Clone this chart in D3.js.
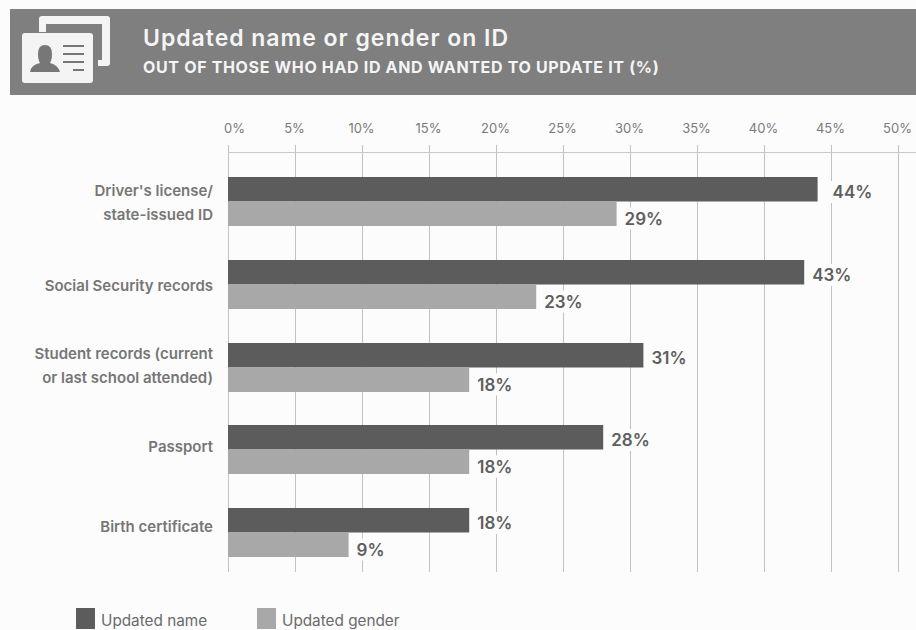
<!DOCTYPE html>
<html>
<head>
<meta charset="utf-8">
<script src="https://cdn.jsdelivr.net/npm/d3@7"></script>
<style>
  html, body { margin: 0; padding: 0; background: #fcfcfc; }
  svg { display: block; font-family: "Inter", "Lato", sans-serif; }
</style>
</head>
<body>
<svg id="chart" width="916" height="630"></svg>
<script>
const categories = ["Driver's license/\nstate-issued ID", "Social Security records", "Student records (current\nor last school attended)", "Passport", "Birth certificate"];
const updatedName = [44, 43, 31, 28, 18];
const updatedGender = [29, 23, 18, 18, 9];
const seriesNames = ["Updated name", "Updated gender"];
const tickValues = [0, 5, 10, 15, 20, 25, 30, 35, 40, 45, 50];

const nameColor = "#5c5c5c";
const genderColor = "#a8a8a8";
const inkColor = "#5e5e5e";

const svg = d3.select("#chart");

// Header band with the ID card icon and titles
svg.append("rect").attr("x", 10).attr("y", 9).attr("width", 906).attr("height", 86).attr("fill", "#7f7f7f");

const icon = svg.append("g").attr("id", "id-icon");
icon.append("path")
  .attr("d", "M39 32 V19 Q39 16 42 16 H107 Q110 16 110 19 V63 Q110 66 107 66 H98 V60 H102 V24 H46 V32 Z")
  .attr("fill", "#f4f4f4");
icon.append("rect").attr("x", 22).attr("y", 33).attr("width", 71).attr("height", 50).attr("rx", 3).attr("fill", "#f4f4f4");
icon.append("path")
  .attr("d", "M30 72 Q31 65 40 63 Q38 60 38 54 Q38 45 45 45 Q52 45 52 54 Q52 60 50 63 Q58 65 60 72 Z")
  .attr("fill", "#777");
[[63, 84, 46], [63, 84, 54], [63, 84, 62], [73, 84, 70]].forEach(([x1, x2, y]) => {
  icon.append("line").attr("x1", x1).attr("x2", x2).attr("y1", y).attr("y2", y)
    .attr("stroke", "#777").attr("stroke-width", 2);
});

svg.append("text").attr("x", 143).attr("y", 46)
  .attr("font-size", 23).attr("font-weight", 600).attr("letter-spacing", 0.98).attr("fill", "#f5f5f5")
  .text("Updated name or gender on ID");
svg.append("text").attr("x", 143).attr("y", 73)
  .attr("font-size", 16).attr("font-weight", 700).attr("letter-spacing", 0.66).attr("fill", "#f5f5f5")
  .text("OUT OF THOSE WHO HAD ID AND WANTED TO UPDATE IT (%)");

// Scales
const x = d3.scaleLinear().domain([0, 50]).range([228, 898]);
const groupTops = [177, 260, 343, 425, 508];
const labelCentres = [203, 286, 365.5, 447, 527];
const y = d3.scaleOrdinal().domain(categories).range(groupTops);
const labelY = d3.scaleOrdinal().domain(categories).range(labelCentres);
const barHeight = 24.5;
const gridTop = 145;
const gridBottom = 572;

// Percentage axis along the top, its ticks extended into the vertical grid
const axis = d3.axisTop(x)
  .tickValues(tickValues)
  .tickFormat(d => d + "%")
  .tickSize(0)
  .tickPadding(0);
const axisG = svg.append("g").attr("transform", "translate(0,133)").call(axis);
axisG.select(".domain").remove();
axisG.selectAll("text")
  .attr("font-size", 13).attr("fill", "#7a7a7a").attr("font-family", "Inter, Lato, sans-serif")
  .attr("dx", d => d === 0 ? 6 : -1);

svg.append("g").attr("shape-rendering", "crispEdges").selectAll("line").data(tickValues).join("line")
  .attr("x1", d => x(d)).attr("x2", d => x(d))
  .attr("y1", gridTop).attr("y2", gridBottom)
  .attr("stroke", "#c2c2c2").attr("stroke-width", 1);
svg.append("line").attr("shape-rendering", "crispEdges")
  .attr("x1", x(0)).attr("x2", 916).attr("y1", 152).attr("y2", 152)
  .attr("stroke", "#c8c8c8").attr("stroke-width", 1);

// Bars and value labels for both series
const series = [
  { values: updatedName, color: nameColor, offset: 0, baseline: 21 },
  { values: updatedGender, color: genderColor, offset: barHeight, baseline: 23 }
];
series.forEach(s => {
  categories.forEach((c, i) => {
    const v = s.values[i];
    const top = y(c) + s.offset;
    svg.append("rect")
      .attr("x", x(0)).attr("y", top)
      .attr("width", x(v) - x(0)).attr("height", barHeight)
      .attr("fill", s.color);
    // The longest bar's label sits clear of the 45% gridline
    const gap = v === 44 ? 15 : 8;
    const label = svg.append("text")
      .attr("x", x(v) + gap).attr("y", top + s.baseline)
      .attr("font-size", 17).attr("font-weight", 600).attr("fill", inkColor)
      .text(v + "%");
    // Plate behind the label interrupts the gridlines
    const b = label.node().getBBox();
    svg.insert("rect", () => label.node())
      .attr("x", b.x - 2).attr("y", b.y - 1)
      .attr("width", b.width + 6).attr("height", b.height + 2)
      .attr("fill", "#fcfcfc");
  });
});

// Category labels, right aligned against the axis
categories.forEach(c => {
  const lines = c.split("\n");
  const t = svg.append("text").attr("text-anchor", "end")
    .attr("font-size", 15).attr("font-weight", 600).attr("fill", "#767676");
  lines.forEach((ln, i) => {
    t.append("tspan").attr("x", 213)
      .attr("y", labelY(c) + 5 + (i - (lines.length - 1) / 2) * 24)
      .text(ln);
  });
});

// Legend
const legendX = [76, 257];
seriesNames.forEach((n, i) => {
  svg.append("rect").attr("x", legendX[i]).attr("y", 608).attr("width", 19).attr("height", 21)
    .attr("fill", i === 0 ? nameColor : genderColor);
  svg.append("text").attr("x", legendX[i] + 25).attr("y", 626)
    .attr("font-size", 15.3).attr("fill", "#6a6a6a").text(n);
});
</script>
</body>
</html>
